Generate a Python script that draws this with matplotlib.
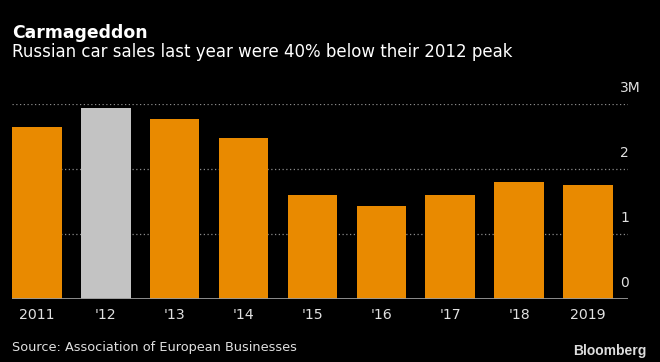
import numpy as np
import matplotlib.pyplot as plt
from matplotlib import transforms

years = ["2011", "'12", "'13", "'14", "'15", "'16", "'17", "'18", "2019"]
sales = [2.65, 2.94, 2.78, 2.49, 1.60, 1.43, 1.60, 1.80, 1.76]  # million units
ytick_vals = [0, 1, 2, 3]
ytick_labels = ["0", "1", "2", "3M"]

plt.rcParams['font.family'] = ['DejaVu Sans']

orange = '#E98A00'
grey = '#C3C3C3'
colors = [grey if y == "'12" else orange for y in years]

fig = plt.figure(figsize=(6.6, 3.62), dpi=100, facecolor='black')
ax = fig.add_axes([12 / 660, 1 - 299 / 362, (628 - 12) / 660, (299 - 104.5) / 362])
ax.set_facecolor('black')

x = np.arange(len(years))
ax.bar(x, sales, width=0.72, color=colors, zorder=3)

# dotted gridlines behind bars
for v in ytick_vals[1:]:
    ax.axhline(v, color='#8a8a8a', lw=0.9, ls=(0, (1, 2)), zorder=1)
ax.axhline(0, color='#9a9a9a', lw=2, zorder=4)

ax.set_xlim(-0.36, 8.58)
ax.set_ylim(0, 3)
for s in ax.spines.values():
    s.set_visible(False)
ax.set_yticks([])
ax.set_xticks(x)
ax.set_xticklabels(years, color='#e0e0e0', fontsize=10.2)
ax.tick_params(axis='x', length=0, pad=6.5)

# y labels sit above their gridlines on the right
off = transforms.ScaledTranslation(0, 6.5 / 72, fig.dpi_scale_trans)
for v, lab in zip(ytick_vals, ytick_labels):
    ax.text(0.987, v, lab, transform=ax.get_yaxis_transform() + off,
            ha='left', va='bottom', color='#e0e0e0', fontsize=10, clip_on=False)

fig.text(12 / 660, 1 - 37.5 / 362, "Carmageddon", color='white', fontsize=12.4,
         fontweight='bold', va='baseline', ha='left')
fig.text(12 / 660, 1 - 57 / 362, "Russian car sales last year were 40% below their 2012 peak",
         color='white', fontsize=12, va='baseline', ha='left')
fig.text(12 / 660, 1 - 350.5 / 362, "Source: Association of European Businesses",
         color='#e0e0e0', fontsize=9.3, va='baseline', ha='left')
fig.text(646 / 660, 1 - 355 / 362, "Bloomberg", color='#dddddd', fontsize=10,
         fontweight='bold', family=['Liberation Sans', 'DejaVu Sans'],
         va='baseline', ha='right')

fig.savefig('out.png', dpi=100, facecolor='black')
